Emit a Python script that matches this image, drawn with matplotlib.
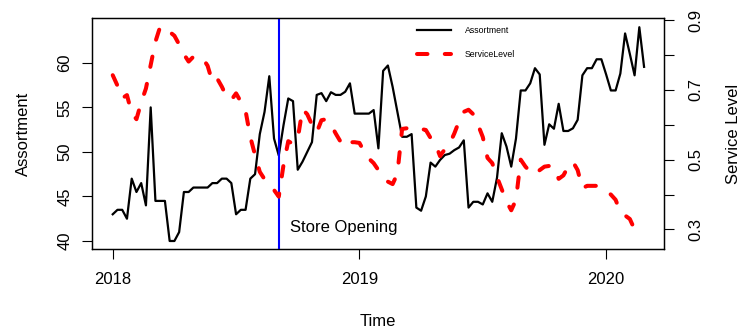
import numpy as np
import matplotlib
matplotlib.use("Agg")
import matplotlib.pyplot as plt
from matplotlib.lines import Line2D

plt.rcParams['font.family'] = ['Liberation Sans', 'DejaVu Sans']

# weekly series starting in week 1 of 2018
start_year = 2018
weeks_per_year = 52

assortment = [
    43.0, 43.5, 43.5, 42.5, 47.0, 45.5, 46.5, 44.0, 55.0, 44.5,
    44.5, 44.5, 40.0, 40.0, 41.0, 45.5, 45.5, 46.0, 46.0, 46.0,
    46.0, 46.5, 46.5, 47.0, 47.0, 46.5, 43.0, 43.5, 43.5, 47.0,
    47.5, 52.0, 54.5, 58.5, 51.5, 49.6, 53.0, 56.0, 55.7, 48.0,
    48.9, 50.0, 51.1, 56.4, 56.6, 55.7, 56.7, 56.4, 56.4, 56.75,
    57.7, 54.3, 54.3, 54.3, 54.3, 54.7, 50.4, 59.1, 59.7, 57.3,
    54.5, 51.7, 51.7, 52.0, 43.75, 43.4, 45.0, 48.8, 48.35, 49.1,
    49.65, 49.8, 50.2, 50.5, 51.3, 43.75, 44.4, 44.4, 44.1, 45.35,
    44.4, 47.1, 52.1, 50.6, 48.35, 51.5, 56.9, 56.9, 57.7, 59.4,
    58.7, 50.8, 53.1, 52.6, 55.4, 52.35, 52.35, 52.65, 53.6, 58.6,
    59.4, 59.4, 60.4, 60.4, 58.7, 56.9, 56.9, 58.8, 63.3, 61.0,
    58.6, 64.0, 59.55,
]

service_level = [
    0.742, 0.712, 0.676, 0.685, 0.633, 0.616, 0.664, 0.704, 0.771, 0.838,
    0.881, 0.879, 0.866, 0.855, 0.830, 0.802, 0.781, 0.795, 0.797, 0.790,
    0.769, 0.723, 0.733, 0.709, 0.680, 0.671, 0.690, 0.666, 0.640, 0.565,
    0.513, 0.465, 0.444, 0.429, 0.413, 0.394, 0.485, 0.553, 0.545, 0.560,
    0.645, 0.630, 0.600, 0.578, 0.613, 0.616, 0.600, 0.575, 0.552, 0.537,
    0.550, 0.550, 0.548, 0.523, 0.503, 0.490, 0.470, 0.450, 0.437, 0.430,
    0.460, 0.588, 0.590, 0.590, 0.590, 0.588, 0.585, 0.562, 0.545, 0.510,
    0.530, 0.545, 0.575, 0.610, 0.637, 0.643, 0.630, 0.600, 0.565, 0.505,
    0.490, 0.450, 0.415, 0.380, 0.355, 0.385, 0.500, 0.480, 0.465, 0.457,
    0.470, 0.480, 0.482, 0.480, 0.445, 0.455, 0.480, 0.494, 0.470, 0.418,
    0.425, 0.425, 0.425, 0.420, 0.410, 0.400, 0.385, 0.350, 0.340, 0.330,
    0.300, 0.280,
]

opening_week = 35  # week index of the store opening
x_ticks = [2018, 2019, 2020]
left_ticks = [40, 45, 50, 55, 60]
right_ticks = [0.3, 0.4, 0.5, 0.6, 0.7, 0.8, 0.9]
right_labels = ["0.3", "", "0.5", "", "0.7", "", "0.9"]

t_a = start_year + np.arange(len(assortment)) / weeks_per_year
t_s = start_year + np.arange(len(service_level)) / weeks_per_year
t_open = start_year + opening_week / weeks_per_year

fig = plt.figure(figsize=(7.42, 3.31), dpi=100)
ax = fig.add_axes([0.124, 0.2477, 0.771, 0.697])
ax2 = ax.twinx()

ax.plot(t_a, assortment, color='black', lw=1.6, solid_joinstyle='round', zorder=3)
ax.axvline(t_open, color='#0000ff', lw=1.5, zorder=4)
ax.text(t_open + 0.047, 41.5, "Store Opening", fontsize=12, ha='left', va='center')

ax2.plot(t_s, service_level, color='#ff0000', lw=2.9, dashes=(2.6, 4.3),
         dash_capstyle='round', zorder=2)

ax.set_xlim(2017.916, 2020.235)
ax.set_ylim(39.1, 65.0)
ax2.set_ylim(0.244, 0.905)

ax.set_xticks(x_ticks)
ax.set_xticklabels([str(v) for v in x_ticks])
ax.set_yticks(left_ticks)
ax.set_yticklabels([str(v) for v in left_ticks], rotation=90, va='center')
ax2.set_yticks(right_ticks)
ax2.set_yticklabels(right_labels, rotation=90, va='center')

for a in (ax, ax2):
    a.tick_params(direction='out', length=7.2, width=0.8, labelsize=12, pad=7)
    for sp in a.spines.values():
        sp.set_linewidth(0.9)
ax.tick_params(axis='x', pad=9)
ax2.tick_params(axis='y', pad=10)

ax.set_xlabel("Time", fontsize=12, labelpad=19.5)
ax.set_ylabel("Assortment", fontsize=12, labelpad=19)
ax2.set_ylabel("Service Level", fontsize=12, labelpad=16.5)

handles = [
    Line2D([], [], color='black', lw=1.6),
    Line2D([], [], color='#ff0000', lw=2.9, dashes=(2.6, 4.3), dash_capstyle='round'),
]
ax.legend(handles, ["Assortment", "ServiceLevel"], loc='upper left',
          bbox_to_anchor=(0.555, 1.0), frameon=False, fontsize=6.3,
          handlelength=3.8, handletextpad=1.6, labelspacing=1.75)

fig.savefig("out.png", dpi=100)
